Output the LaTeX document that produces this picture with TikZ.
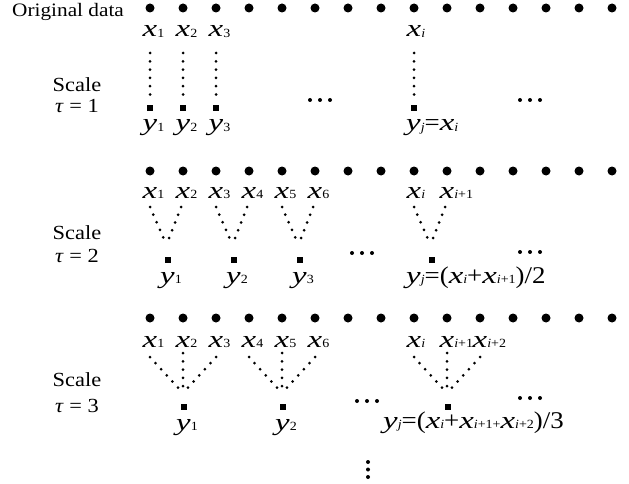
\documentclass[tikz,border=0pt]{standalone}
\usepackage{fontspec}
\setmainfont[FakeStretch=1.12]{Liberation Serif}
\usepackage{graphicx}
\newcommand\VarX[2]{{\fontsize{24}{24}\selectfont\scalebox{1.22}[1]{\itshape #1}}\raisebox{-0.8pt}{\fontsize{12.5}{12.5}\selectfont #2}}
\newcommand\EqFont{\fontsize{24}{24}\selectfont}
\begin{document}
\begin{tikzpicture}[x=1pt,y=-1pt,
  bigdot/.style={circle,fill,inner sep=0pt,minimum size=9pt},
  sq/.style={rectangle,fill,inner sep=0pt,minimum size=6pt},
  lab/.style={inner sep=0pt,anchor=base west},
  dotline/.style={line width=3pt,dash pattern=on 0pt off 8.3pt,line cap=round},
  smalldot/.style={circle,fill,inner sep=0pt,minimum size=4pt},
  txt/.style={inner sep=0pt,anchor=base,font=\fontsize{20}{20}\selectfont}]
\useasboundingbox (0,0) rectangle (629,484);

% rows of data points
\foreach \r/\yy in {a/8,b/171,c/318}{
  \foreach \k in {0,...,14}{\node[bigdot] (\r\k) at ({150+33*\k},\yy) {};}
}

% left texts
\node[txt,anchor=base west,font=\fontsize{19}{19}\selectfont] (orig) at (12,17) {Original data};
\node[txt] (sa) at (77,92) {Scale};
\node[txt] (ta) at (77,113) {\textit{τ} = 1};
\node[txt] (sb) at (77,239) {Scale};
\node[txt] (tb) at (77,262) {\textit{τ} = 2};
\node[txt] (sc) at (77,386) {Scale};
\node[txt] (tc) at (77,412) {\textit{τ} = 3};

% ---------- scale 1 ----------
\node[lab] (ax1) at (142.5,37) {\VarX{x}{1}};
\node[lab] (ax2) at (175.5,37) {\VarX{x}{2}};
\node[lab] (ax3) at (208.5,37) {\VarX{x}{3}};
\node[lab] (axi) at (406.5,37) {\VarX{x}{\textit{i}}};
\foreach \n/\xx in {1/150,2/183,3/216,i/414}{
  \coordinate (at\n) at (\xx,53);
  \coordinate (ae\n) at (\xx,95);
  \node[sq] (as\n) at (\xx,108) {};
  \draw[dotline] (at\n) -- (ae\n);
}
\node[lab] (ay1) at (142.5,131) {\VarX{y}{1}};
\node[lab] (ay2) at (175.5,131) {\VarX{y}{2}};
\node[lab] (ay3) at (208.5,131) {\VarX{y}{3}};
\node[lab] (ayj) at (406,131) {\EqFont\VarX{y}{\textit{j}}=\VarX{x}{\textit{i}}};
\foreach \cx/\cy/\nm in {320/100/ea1,530/100/ea2,362/253/eb1,530/252/eb2,367/401/ec1,530/398/ec2}{
  \node[smalldot] (\nm l) at (\cx-10,\cy) {};
  \node[smalldot] (\nm m) at (\cx,\cy) {};
  \node[smalldot] (\nm r) at (\cx+10,\cy) {};
}

% ---------- scale 2 ----------
\node[lab] (bx1) at (142.5,198) {\VarX{x}{1}};
\node[lab] (bx2) at (175.5,198) {\VarX{x}{2}};
\node[lab] (bx3) at (208.5,198) {\VarX{x}{3}};
\node[lab] (bx4) at (241.5,198) {\VarX{x}{4}};
\node[lab] (bx5) at (274.5,198) {\VarX{x}{5}};
\node[lab] (bx6) at (307.5,198) {\VarX{x}{6}};
\node[lab] (bxi) at (406.5,198) {\VarX{x}{\textit{i}}};
\node[lab] (bxj) at (439.5,198) {\VarX{x}{\textit{i}+1}};
\foreach \n/\xa/\xb in {1/150/183,2/216/249,3/282/315,j/414/447}{
  \coordinate (bl\n) at (\xa,207);
  \coordinate (br\n) at (\xb-2,207);
  \coordinate (bm\n) at ({(\xa+\xb)/2},245);
  \node[sq] (bs\n) at ({(\xa+\xb)/2+1},260) {};
  \draw[dotline] (bl\n) -- (bm\n);
  \draw[dotline] (br\n) -- (bm\n);
}
\node[lab] (by1) at (160,283) {\VarX{y}{1}};
\node[lab] (by2) at (226,283) {\VarX{y}{2}};
\node[lab] (by3) at (292,283) {\VarX{y}{3}};
\node[lab] (byj) at (406,283) {\EqFont\VarX{y}{\textit{j}}=(\VarX{x}{\textit{i}}+\VarX{x}{\textit{i}+1})/2};

% ---------- scale 3 ----------
\node[lab] (cx1) at (142.5,347) {\VarX{x}{1}};
\node[lab] (cx2) at (175.5,347) {\VarX{x}{2}};
\node[lab] (cx3) at (208.5,347) {\VarX{x}{3}};
\node[lab] (cx4) at (241.5,347) {\VarX{x}{4}};
\node[lab] (cx5) at (274.5,347) {\VarX{x}{5}};
\node[lab] (cx6) at (307.5,347) {\VarX{x}{6}};
\node[lab] (cxi) at (406.5,347) {\VarX{x}{\textit{i}}};
\node[lab] (cxj) at (439.5,347) {\VarX{x}{\textit{i}+1}};
\node[lab] (cxk) at (472.5,347) {\VarX{x}{\textit{i}+2}};
\foreach \n/\xa/\xb/\xc in {1/150/183/216,2/249/282/315,j/414/447/480}{
  \coordinate (cl\n) at (\xa,357);
  \coordinate (cm\n) at (\xb,353);
  \coordinate (cr\n) at (\xc,357);
  \coordinate (ce\n) at (\xb,393);
  \node[sq] (cs\n) at (\xb+1,407) {};
  \draw[dotline] (cl\n) -- (ce\n);
  \draw[dotline] (cm\n) -- (ce\n);
  \draw[dotline] (cr\n) -- (ce\n);
}
\node[lab] (cy1) at (176,430) {\VarX{y}{1}};
\node[lab] (cy2) at (275,430) {\VarX{y}{2}};
\node[lab] (cyj) at (383,428) {\EqFont\VarX{y}{\textit{j}}=(\VarX{x}{\textit{i}}+\VarX{x}{\textit{i}+1+}\VarX{x}{\textit{i}+2})/3};

% vertical continuation dots
\node[smalldot] (vd1) at (368,462) {};
\node[smalldot] (vd2) at (368,469.5) {};
\node[smalldot] (vd3) at (368,477) {};
\end{tikzpicture}
\end{document}
